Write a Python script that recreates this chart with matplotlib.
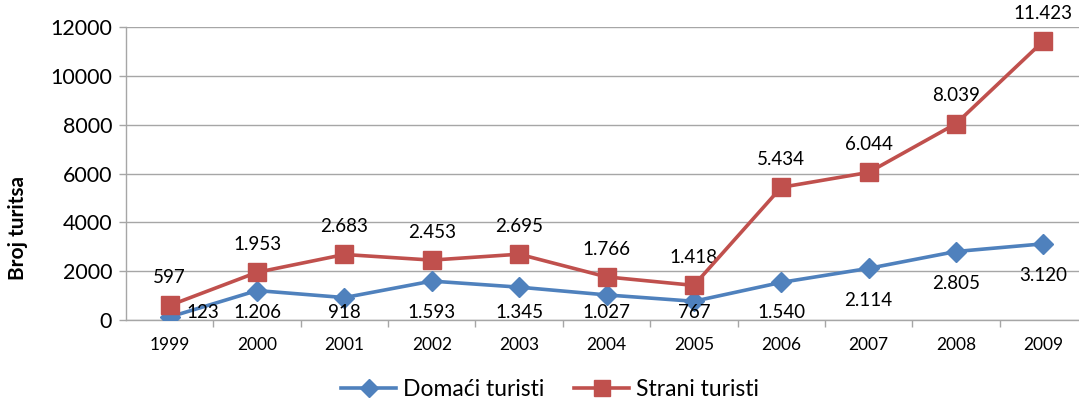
import matplotlib.pyplot as plt
from matplotlib.lines import Line2D

# Broj turista po godinama (domaci / strani)
years = ['1999', '2000', '2001', '2002', '2003', '2004', '2005', '2006', '2007', '2008', '2009']
domaci = [123, 1206, 918, 1593, 1345, 1027, 767, 1540, 2114, 2805, 3120]
strani = [597, 1953, 2683, 2453, 2695, 1766, 1418, 5434, 6044, 8039, 11423]
yticks = [0, 2000, 4000, 6000, 8000, 10000, 12000]


def fmt(v):
    # thousands separator is a dot, as in the source
    return f"{v:,}".replace(',', '.')


plt.rcParams['font.family'] = ['Lato', 'DejaVu Sans']

BLUE = '#4F81BD'
RED = '#C0504D'
GRID = '#A6A6A6'

fig = plt.figure(figsize=(10.79, 4.03), dpi=100)
# the plot area runs past the right edge, like the cropped original
ax = fig.add_axes([126 / 1079, 83 / 403, 961 / 1079, 293 / 403])

x = list(range(len(years)))
ax.plot(x, domaci, color=BLUE, lw=2.6, marker='D', ms=10, mfc=BLUE, mec=BLUE, zorder=3)
ax.plot(x, strani, color=RED, lw=2.6, marker='s', ms=13, mfc=RED, mec=RED, zorder=4)

ax.set_xlim(-0.5, len(years) - 0.5)
ax.set_ylim(0, 12000)
ax.set_yticks(yticks)
ax.set_yticklabels([str(t) for t in yticks], fontsize=15.5)
ax.grid(axis='y', color=GRID, lw=1)
ax.set_axisbelow(True)

ax.set_xticks([i - 0.5 for i in range(1, len(years))], minor=False)
ax.set_xticklabels([])
ax.set_xticks(x, minor=True)
ax.set_xticklabels(years, minor=True, fontsize=12.5)
ax.tick_params(axis='x', which='major', length=5, color=GRID, width=1)
ax.tick_params(axis='x', which='minor', length=0, pad=12)
ax.tick_params(axis='y', length=5, color=GRID, width=1, pad=5)

for s in ['top', 'right']:
    ax.spines[s].set_visible(False)
for s in ['left', 'bottom']:
    ax.spines[s].set_color(GRID)
    ax.spines[s].set_linewidth(1)

# red labels above, blue labels below (pushed up near the axis)
for i, v in enumerate(strani):
    ax.annotate(fmt(v), (i, v), xytext=(0, 20), textcoords='offset points',
                ha='center', va='center', fontsize=13.5, annotation_clip=False)
for i, v in enumerate(domaci):
    if i == 0:
        ax.annotate(fmt(v), (i, v), xytext=(24, 3), textcoords='offset points',
                    ha='center', va='center', fontsize=13.5)
        continue
    ly = max(v - 1310, 290)
    ax.text(i, ly, fmt(v), ha='center', va='center', fontsize=13.5)

fig.text(18 / 1079, 175 / 403, 'Broj turitsa', rotation=90, fontsize=15,
         fontweight='bold', ha='center', va='center')

handles = [Line2D([], [], color=BLUE, lw=2.6, marker='D', ms=9),
           Line2D([], [], color=RED, lw=2.6, marker='s', ms=11)]
fig.legend(handles, ['Domaći turisti', 'Strani turisti'], loc='center',
           bbox_to_anchor=(550 / 1079, 13 / 403), ncol=2, frameon=False,
           fontsize=16.5, handlelength=2.4, columnspacing=1.3, handletextpad=0.3)

fig.savefig('out.png', dpi=100)
